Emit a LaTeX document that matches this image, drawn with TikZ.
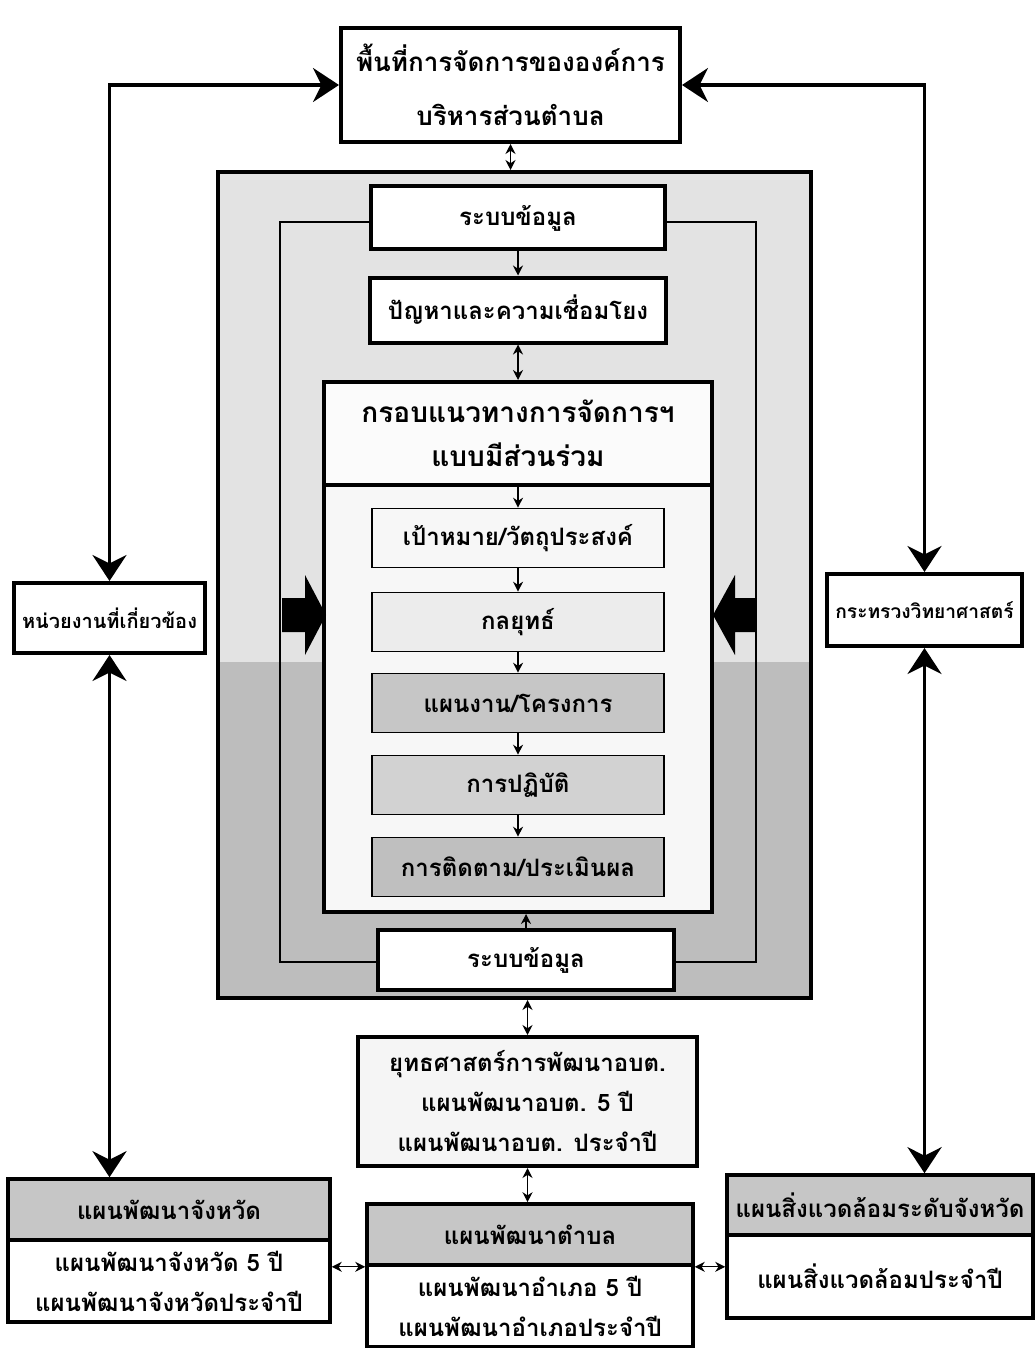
\documentclass[tikz,border=0pt]{standalone}
\usepackage{fontspec}
\newfontfamily\thaifont[Script=Thai]{Loma}
\usetikzlibrary{arrows.meta}

\begin{document}
\begin{tikzpicture}[x=0.5pt,y=-0.5pt,
		every node/.style={font=\thaifont\bfseries\fontsize{12}{20}\selectfont, align=center, inner sep=0pt},
		heavybox/.style={draw, line width=2pt, fill=white},
		lightbox/.style={draw, line width=0.8pt, minimum width=146pt, minimum height=29.5pt},
		headbox/.style={draw, line width=1.8pt, fill=gray!45},
		link/.style={line width=1.8pt, {Stealth[length=13pt,width=17pt]}-{Stealth[length=13pt,width=17pt]}},
		hop/.style={line width=0.6pt, -{Stealth[length=5pt,width=5pt]}},
		twohop/.style={line width=0.6pt, {Stealth[length=5pt,width=5pt]}-{Stealth[length=5pt,width=5pt]}}]

		\useasboundingbox (0,0) rectangle (1036,1348);

		\fill[gray!22] (218,172) rectangle (811,662);
		\fill[gray!52] (218,662) rectangle (811,998);
		\node (Frame) [draw, line width=2pt, minimum width=296.5pt, minimum height=413pt] at (514.5,585) {};

		\draw[line width=0.6pt] (280,222) rectangle (756,962);

		\node (Org) [heavybox, minimum width=169.5pt, minimum height=57pt, font=\thaifont\bfseries\fontsize{13}{27}\selectfont] at (510.5,85) {พื้นที่การจัดการขององค์การ\\บริหารส่วนตำบล};

		\node (Info) [heavybox, minimum width=147pt, minimum height=31.5pt] at (518,218) {ระบบข้อมูล};

		\node (Prob) [heavybox, minimum width=148pt, minimum height=32.5pt] at (518,310) {ปัญหาและความเชื่อมโยง};

		\node (Box) [heavybox, fill=gray!6, minimum width=194pt, minimum height=265pt] at (518,647) {};

		\node (Guide) [draw, line width=2pt, fill=gray!3, minimum width=194pt, minimum height=51.5pt, font=\thaifont\bfseries\fontsize{14}{22}\selectfont] at (518,433.5) {กรอบแนวทางการจัดการฯ\\แบบมีส่วนร่วม};

		\node (Goal) [lightbox, fill=gray!6] at (518,538) {เป้าหมาย/วัตถุประสงค์};
		\node (Strat) [lightbox, fill=gray!15] at (518,622) {กลยุทธ์};
		\node (Proj) [lightbox, fill=gray!45] at (518,703) {แผนงาน/โครงการ};
		\node (Act) [lightbox, fill=gray!35] at (518,785) {การปฏิบัติ};
		\node (Eval) [lightbox, fill=gray!50] at (518,867) {การติดตาม/ประเมินผล};

		\node (Data) [heavybox, minimum width=148pt, minimum height=30pt] at (526,960) {ระบบข้อมูล};

		\fill (282,598) -- (305,598) -- (305,575) -- (326,615) -- (305,655) -- (305,632) -- (282,632) -- cycle;
		\fill (756,598) -- (735,598) -- (735,575) -- (713,615) -- (735,655) -- (735,632) -- (756,632) -- cycle;

		\node (Plan) [heavybox, fill=gray!8, minimum width=169.5pt, minimum height=64.5pt] at (527.5,1101.5) {ยุทธศาสตร์การพัฒนาอบต.\\แผนพัฒนาอบต. 5 ปี\\แผนพัฒนาอบต. ประจำปี};

		\node (ProvHead) [headbox, minimum width=161pt, minimum height=30.5pt] at (169,1209.5) {แผนพัฒนาจังหวัด};
		\node (ProvBody) [heavybox, line width=1.8pt, minimum width=161pt, minimum height=41pt] at (169,1281) {แผนพัฒนาจังหวัด 5 ปี\\แผนพัฒนาจังหวัดประจำปี};

		\node (TamHead) [headbox, minimum width=163pt, minimum height=30.5pt] at (530,1234.5) {แผนพัฒนาตำบล};
		\node (TamBody) [heavybox, line width=1.8pt, minimum width=163pt, minimum height=41pt] at (530,1306) {แผนพัฒนาอำเภอ 5 ปี\\แผนพัฒนาอำเภอประจำปี};

		\node (EnvHead) [headbox, minimum width=153pt, minimum height=30pt] at (880,1205) {แผนสิ่งแวดล้อมระดับจังหวัด};
		\node (EnvBody) [heavybox, line width=1.8pt, minimum width=153pt, minimum height=41.5pt] at (880,1276.5) {แผนสิ่งแวดล้อมประจำปี};

		\node (Agency) [heavybox, minimum width=95.5pt, minimum height=35pt, font=\thaifont\bfseries\fontsize{10}{14}\selectfont] at (109.5,618) {หน่วยงานที่เกี่ยวข้อง};

		\node (Ministry) [heavybox, minimum width=97.5pt, minimum height=36pt, font=\thaifont\bfseries\fontsize{9.6}{14}\selectfont] at (924.5,610) {กระทรวงวิทยาศาสตร์};

		\draw[link] (Agency.north) |- (Org.west);
		\draw[link] (Ministry.north) |- (Org.east);
		\draw[link] (Agency.south) -- (Agency.south |- ProvHead.north);
		\draw[link] (Ministry.south) -- (Ministry.south |- EnvHead.north);

		\draw[twohop] (Org.south) -- (Org.south |- Frame.north);
		\draw[hop] (Info.south) -- (Prob.north);
		\draw[twohop] (Prob.south) -- (Guide.north);
		\draw[hop] (Guide.south) -- (Goal.north);
		\draw[hop] (Goal.south) -- (Strat.north);
		\draw[hop] (Strat.south) -- (Proj.north);
		\draw[hop] (Proj.south) -- (Act.north);
		\draw[hop] (Act.south) -- (Eval.north);
		\draw[hop] (Data.north) -- (Data.north |- Box.south);

		\draw[twohop] (Plan.north |- Frame.south) -- (Plan.north);
		\draw[twohop] (Plan.south) -- (Plan.south |- TamHead.north);
		\draw[twohop] (TamHead.south west -| ProvBody.east) -- (TamHead.south west);
		\draw[twohop] (TamHead.south east) -- (TamHead.south east -| EnvBody.west);
	\end{tikzpicture}
\end{document}
